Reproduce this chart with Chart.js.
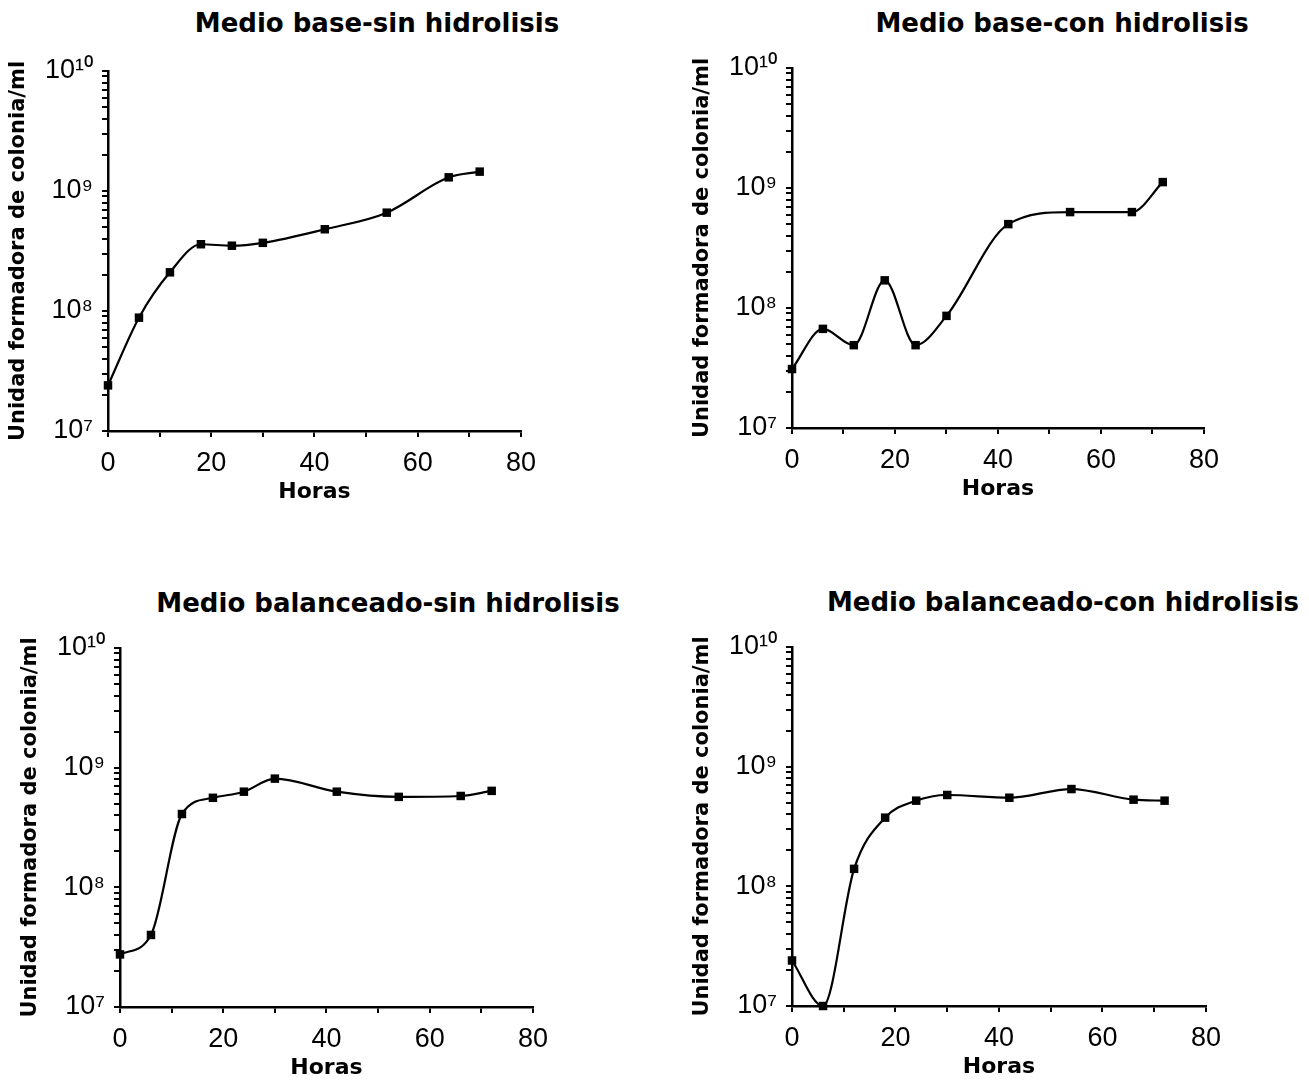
<!DOCTYPE html>
<html><head><meta charset="utf-8">
<script src="https://cdn.jsdelivr.net/npm/chart.js@4.4.1/dist/chart.umd.min.js"></script>
<style>
html,body{margin:0;padding:0;background:#fff;width:1309px;height:1087px;overflow:hidden;}
canvas{position:absolute;}
.ttl{position:absolute;width:640px;text-align:center;font-family:"DejaVu Sans",sans-serif;font-weight:bold;font-size:26px;line-height:30px;color:#000;white-space:nowrap;}
</style></head><body>
<script>
// ---- data ----
const hours = [0, 6, 12, 18, 24, 30, 42, 54, 66, 72];
const chartTitles = [
  'Medio base-sin hidrolisis',
  'Medio base-con hidrolisis',
  'Medio balanceado-sin hidrolisis',
  'Medio balanceado-con hidrolisis'
];
const baseSinHidrolisis = [2.4e7, 8.8e7, 2.1e8, 3.6e8, 3.5e8, 3.7e8, 4.8e8, 6.6e8, 1.3e9, 1.45e9];
const baseConHidrolisis = [3.1e7, 6.7e7, 4.9e7, 1.7e8, 4.9e7, 8.6e7, 5.0e8, 6.3e8, 6.3e8, 1.12e9];
const balanceadoSinHidrolisis = [2.75e7, 4.0e7, 4.1e8, 5.6e8, 6.3e8, 8.1e8, 6.3e8, 5.7e8, 5.8e8, 6.4e8];
const balanceadoConHidrolisis = [2.4e7, 1.0e7, 1.4e8, 3.75e8, 5.2e8, 5.8e8, 5.5e8, 6.5e8, 5.3e8, 5.2e8];
const seriesList = [baseSinHidrolisis, baseConHidrolisis, balanceadoSinHidrolisis, balanceadoConHidrolisis];
const decadeTicks = [1e7, 1e8, 1e9, 1e10];
const decadeLabels = ['10⁷', '10⁸', '10⁹', '10¹⁰'];
const xTickLabels = ['0', '20', '40', '60', '80'];
const xLabel = 'Horas';
const yLabel = 'Unidad formadora de colonia/ml';

// ---- layout (styling only) ----
const YW = 108, PT = 30, PR = 24, XH = 76;
const panels = [
  {L:108, R:522, T:71, B:431, tx:377, ty:23},
  {L:792, R:1205, T:68, B:428, tx:1062, ty:23},
  {L:120, R:534, T:648, B:1007, tx:388, ty:603},
  {L:792, R:1207, T:647, B:1006, tx:1063, ty:602}
];
const tickFont = {family:"'Liberation Sans Narrow','Liberation Sans',sans-serif", size:27};
const axisTitleFont = {family:"'DejaVu Sans',sans-serif", weight:'bold', size:21};

// minor+major log tick positions
const yTickValues = [];
for (let d = 0; d < decadeTicks.length - 1; d++) {
  for (let k = 1; k <= 9; k++) yTickValues.push(k * decadeTicks[d]);
}
yTickValues.push(decadeTicks[decadeTicks.length - 1]);

panels.forEach((p, idx) => {
  const t = document.createElement('div');
  t.className = 'ttl';
  t.textContent = chartTitles[idx];
  t.style.left = (p.tx - 320) + 'px';
  t.style.top = (p.ty - 15) + 'px';
  document.body.appendChild(t);

  const cv = document.createElement('canvas');
  const w = p.R - p.L + YW + PR;
  const h = p.B - p.T + PT + XH;
  cv.width = w; cv.height = h;
  cv.style.left = (p.L - YW) + 'px';
  cv.style.top = (p.T - PT) + 'px';
  cv.style.width = w + 'px'; cv.style.height = h + 'px';
  document.body.appendChild(cv);

  const vals = seriesList[idx];
  new Chart(cv.getContext('2d'), {
    type: 'line',
    data: {
      datasets: [{
        data: hours.map((hh, i) => ({x: hh, y: vals[i]})),
        borderColor: '#000',
        backgroundColor: '#000',
        borderWidth: 2.2,
        pointStyle: 'rect',
        pointRadius: 6,
        pointBackgroundColor: '#000',
        pointBorderColor: '#000',
        pointBorderWidth: 0,
        cubicInterpolationMode: 'monotone',
        clip: false,
        fill: false
      }]
    },
    options: {
      responsive: false,
      animation: false,
      devicePixelRatio: 1,
      layout: {padding: {top: PT, right: PR, left: 0, bottom: 0}},
      plugins: {legend: {display: false}, tooltip: {enabled: false}, title: {display: false}},
      scales: {
        x: {
          type: 'linear', min: 0, max: 80,
          ticks: {
            stepSize: 10, autoSkip: false, maxRotation: 0, padding: 10, color: '#000', font: tickFont,
            callback: (v) => (v % 20 === 0 ? xTickLabels[v / 20] : '')
          },
          grid: {display: true, drawOnChartArea: false, drawTicks: true, tickLength: 6, color: '#000', lineWidth: 2},
          border: {display: true, color: '#000', width: 2.5},
          title: {display: true, text: xLabel, color: '#000', font: {family: "'DejaVu Sans',sans-serif", weight: 'bold', size: 22}, padding: {top: 0, bottom: 2}},
          afterFit: (s) => { s.height = XH; }
        },
        y: {
          type: 'logarithmic', min: decadeTicks[0], max: decadeTicks[decadeTicks.length - 1],
          afterBuildTicks: (s) => { s.ticks = yTickValues.map(v => ({value: v})); },
          ticks: {
            autoSkip: false, padding: 9, color: '#000', font: tickFont,
            callback: (v) => { const i = decadeTicks.indexOf(v); return i >= 0 ? decadeLabels[i] : ''; }
          },
          grid: {display: true, drawOnChartArea: false, drawTicks: true, tickLength: 6, color: '#000', lineWidth: 2},
          border: {display: true, color: '#000', width: 2.5},
          title: {display: true, text: yLabel, color: '#000', font: axisTitleFont, padding: {top: 6, bottom: 0}},
          afterFit: (s) => { s.width = YW; }
        }
      }
    }
  });
});
</script>
</body></html>
